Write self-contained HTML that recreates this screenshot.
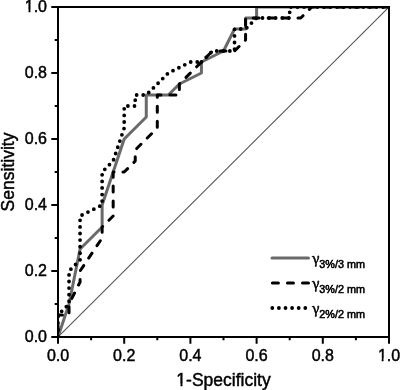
<!DOCTYPE html><html><head><meta charset="utf-8"><style>html,body{margin:0;padding:0;background:#fff;}svg{display:block;}text{font-family:'Liberation Sans', Arial, Helvetica, sans-serif;fill:#000;stroke:#000;stroke-width:0.45px;}</style></head><body>
<svg width="400" height="390" viewBox="0 0 400 390">
<defs><clipPath id="c"><rect x="58.0" y="7.0" width="331.0" height="330.0"/></clipPath></defs><g clip-path="url(#c)">
<line x1="58.0" y1="337.0" x2="389.0" y2="7.0" stroke="#555" stroke-width="1.1"/>
<path d="M58.00,337.00 L69.03,304.00 L80.07,249.00 L102.13,227.00 L102.13,205.00 L124.20,139.00 L146.27,117.00 L146.27,95.00 L168.33,95.00 L179.37,84.00 L201.43,73.00 L201.43,62.00 L223.50,51.00 L234.53,29.00 L245.57,29.00 L245.57,18.00 L256.60,18.00 L256.60,7.00 L389.00,7.00" fill="none" stroke="#6a6a6a" stroke-width="3" stroke-linejoin="round" stroke-linecap="round"/>
<path d="M58.00,337.00 L58.00,315.00 L69.03,315.00 L69.03,304.00 L80.07,282.00 L80.07,271.00 L102.13,238.00 L102.13,227.00 L113.17,216.00 L113.17,172.00 L124.20,172.00 L135.23,161.00 L135.23,150.00 L157.30,128.00 L157.30,95.00 L179.37,95.00 L179.37,84.00 L212.47,51.00 L234.53,51.00 L245.57,40.00 L245.57,18.00 L300.73,18.00 L311.77,7.00 L389.00,7.00" fill="none" stroke="#000" stroke-width="3" stroke-dasharray="6 8.94" stroke-dashoffset="9.44" stroke-linejoin="round" stroke-linecap="round"/>
<path d="M58.00,337.00 L58.00,315.00 L69.03,304.00 L69.03,271.00 L80.07,260.00 L80.07,216.00 L102.13,205.00 L102.13,172.00 L113.17,161.00 L124.20,128.00 L124.20,106.00 L135.23,106.00 L135.23,95.00 L146.27,95.00 L168.33,73.00 L190.40,62.00 L201.43,62.00" fill="none" stroke="#000" stroke-width="3.8" stroke-dasharray="0 6.575" stroke-dashoffset="5.675" stroke-linejoin="round" stroke-linecap="round"/>
<path d="M201.43,62.00 L212.47,51.00 L234.53,51.00 L234.53,29.00 L245.57,29.00 L256.60,18.00 L289.70,18.00 L289.70,7.00 L389.00,7.00" fill="none" stroke="#000" stroke-width="3.8" stroke-dasharray="0 6.575" stroke-dashoffset="6.46" stroke-linejoin="round" stroke-linecap="round"/>
</g>
<rect x="58.0" y="7.0" width="331.0" height="330.0" fill="none" stroke="#000" stroke-width="2"/>
<path d="M58.00,337.0 V343.7 M58.0,337.00 H51.3 M91.10,337.0 V340.3 M58.0,304.00 H54.7 M124.20,337.0 V343.7 M58.0,271.00 H51.3 M157.30,337.0 V340.3 M58.0,238.00 H54.7 M190.40,337.0 V343.7 M58.0,205.00 H51.3 M223.50,337.0 V340.3 M58.0,172.00 H54.7 M256.60,337.0 V343.7 M58.0,139.00 H51.3 M289.70,337.0 V340.3 M58.0,106.00 H54.7 M322.80,337.0 V343.7 M58.0,73.00 H51.3 M355.90,337.0 V340.3 M58.0,40.00 H54.7 M389.00,337.0 V343.7 M58.0,7.00 H51.3" stroke="#000" stroke-width="2" fill="none"/>
<text x="58.00" y="360.7" font-size="16" text-anchor="middle">0.0</text>
<text x="47" y="342.00" font-size="16" text-anchor="end">0.0</text>
<text x="124.20" y="360.7" font-size="16" text-anchor="middle">0.2</text>
<text x="47" y="276.00" font-size="16" text-anchor="end">0.2</text>
<text x="190.40" y="360.7" font-size="16" text-anchor="middle">0.4</text>
<text x="47" y="210.00" font-size="16" text-anchor="end">0.4</text>
<text x="256.60" y="360.7" font-size="16" text-anchor="middle">0.6</text>
<text x="47" y="144.00" font-size="16" text-anchor="end">0.6</text>
<text x="322.80" y="360.7" font-size="16" text-anchor="middle">0.8</text>
<text x="47" y="78.00" font-size="16" text-anchor="end">0.8</text>
<text x="389.00" y="360.7" font-size="16" text-anchor="middle">1.0</text>
<text x="47" y="12.00" font-size="16" text-anchor="end">1.0</text>
<text x="223.5" y="386" font-size="17.5" text-anchor="middle">1-Specificity</text>
<text transform="translate(13.5,172) rotate(-90)" x="0" y="0" font-size="17.5" text-anchor="middle">Sensitivity</text>
<path fill="#fff" d="M378.00,358.50H381.65V362.00H378.00Z M383.56,358.50H387.00V362.00H383.56Z M25.00,9.80H28.52V13.00H25.00Z M30.44,9.80H34.00V13.00H30.44Z M177.00,383.69H180.48V387.00H177.00Z M182.52,383.69H186.00V387.00H182.52Z"/>
<line x1="272" y1="258" x2="308.5" y2="258" stroke="#6a6a6a" stroke-width="3" stroke-linecap="round"/>
<line x1="272.4" y1="283" x2="308.6" y2="283" stroke="#000" stroke-width="3" stroke-dasharray="6 9.05" stroke-linecap="round"/>
<line x1="272.3" y1="308" x2="306" y2="308" stroke="#000" stroke-width="3.8" stroke-dasharray="0 6.6" stroke-linecap="round"/>
<text x="312.1" y="263.70" font-size="14.2" font-weight="normal" style="font-family:'Noto Serif CJK SC', 'Liberation Serif', serif;stroke-width:0.6px">γ</text>
<text x="319.3" y="267.50" font-size="10.8" font-weight="normal" style="stroke-width:0.55px">3%/3 mm</text>
<text x="312.1" y="288.70" font-size="14.2" font-weight="normal" style="font-family:'Noto Serif CJK SC', 'Liberation Serif', serif;stroke-width:0.6px">γ</text>
<text x="319.3" y="292.50" font-size="10.8" font-weight="normal" style="stroke-width:0.55px">3%/2 mm</text>
<text x="312.1" y="313.70" font-size="14.2" font-weight="normal" style="font-family:'Noto Serif CJK SC', 'Liberation Serif', serif;stroke-width:0.6px">γ</text>
<text x="319.3" y="317.50" font-size="10.8" font-weight="normal" style="stroke-width:0.55px">2%/2 mm</text>
</svg></body></html>
